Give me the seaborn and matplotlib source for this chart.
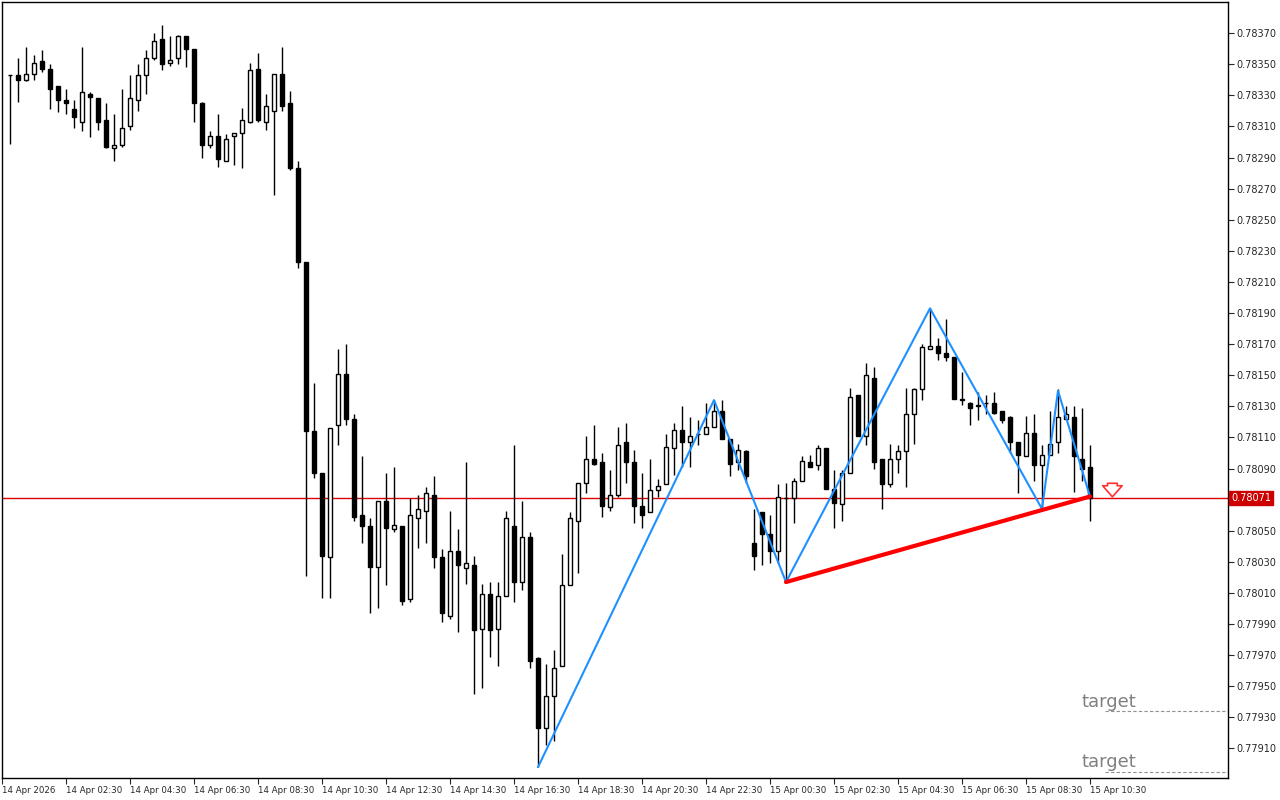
import numpy as np
import pandas as pd
import matplotlib
matplotlib.use("Agg")
import matplotlib.pyplot as plt
import seaborn as sns

# OHLC in price points (1e-5)
opens = [78343,78343,78340,78344,78352,78347,78336,78327,78321,78313,78331,78328,78314,78296,78298,78310,78327,78343,78354,78366,
         78351,78354,78368,78360,78325,78298,78304,78288,78304,78306,78313,78347,78313,78320,78344,78325,78283,78223,78114,78087,
         78033,78118,78151,78122,78060,78053,78027,78069,78051,78053,78006,78058,78063,78073,78033,77995,78037,78026,78028,77987,
         78009,77987,78008,78053,78017,78046,77968,77923,77944,77963,78015,78056,78081,78096,78094,78065,78073,78107,78094,78066,
         78062,78076,78080,78103,78115,78107,78112,78112,78117,78127,78109,78094,78101,78042,78062,78048,78037,78071,78071,78082,
         78094,78092,78103,78077,78067,78087,78137,78111,78148,78096,78080,78096,78101,78125,78141,78167,78169,78164,78162,78135,
         78132,78130,78132,78132,78127,78123,78107,78098,78113,78092,78099,78107,78122,78123,78096,78091]
highs = [78343,78354,78361,78356,78359,78350,78336,78334,78327,78361,78332,78328,78325,78318,78334,78343,78350,78359,78370,78375,
         78368,78369,78368,78360,78326,78307,78318,78305,78306,78322,78351,78357,78331,78344,78361,78333,78288,78223,78145,78087,
         78116,78167,78170,78125,78098,78058,78069,78087,78091,78053,78071,78073,78078,78085,78038,78063,78051,78094,78034,78016,
         78017,78017,78063,78105,78069,78049,77969,77964,77973,78035,78062,78081,78111,78118,78100,78089,78117,78119,78102,78087,
         78096,78083,78112,78119,78130,78123,78121,78132,78134,78134,78109,78106,78102,78064,78062,78060,78080,78081,78084,78098,
         78099,78105,78103,78089,78089,78142,78137,78158,78155,78096,78106,78105,78142,78142,78170,78193,78174,78186,78162,78152,
         78133,78139,78137,78139,78127,78124,78107,78124,78125,78105,78127,78141,78130,78130,78129,78105]
lows = [78299,78326,78339,78340,78345,78321,78319,78318,78309,78307,78303,78308,78296,78288,78297,78308,78320,78331,78353,78346,
        78349,78350,78348,78313,78290,78296,78284,78288,78285,78283,78312,78313,78308,78266,78320,78282,78219,78021,78084,78007,
        78007,78105,78118,78056,78042,77997,78000,78015,78049,78002,78004,78039,78042,78026,77991,77993,77985,78016,77945,77949,
        77969,77963,78008,78004,78012,77962,77898,77912,77915,77963,78015,78023,78074,78092,78059,78063,78072,78081,78055,78052,
        78062,78072,78080,78086,78091,78091,78105,78112,78117,78109,78085,78089,78081,78025,78028,78029,78029,78017,78055,78082,
        78091,78089,78077,78052,78056,78087,78111,78105,78090,78064,78078,78087,78078,78106,78134,78167,78160,78159,78135,78131,
        78118,78121,78125,78125,78119,78100,78074,78098,78082,78064,78099,78100,78122,78075,78082,78056]
closes = [78343,78340,78344,78351,78347,78334,78327,78325,78316,78332,78329,78313,78297,78298,78309,78328,78343,78354,78365,78350,
          78353,78368,78360,78325,78298,78304,78289,78302,78306,78314,78346,78314,78323,78344,78323,78283,78223,78114,78087,78034,
          78116,78151,78122,78059,78053,78027,78069,78052,78054,78005,78060,78064,78074,78033,77997,78037,78028,78029,77986,78009,
          77986,78008,78058,78017,78046,77966,77923,77944,77962,78015,78058,78081,78096,78093,78066,78073,78105,78094,78066,78060,
          78076,78079,78104,78115,78107,78111,78112,78117,78127,78109,78093,78102,78085,78034,78048,78037,78072,78071,78082,78095,
          78091,78103,78077,78068,78087,78136,78111,78150,78094,78080,78096,78101,78125,78141,78168,78169,78164,78162,78135,78134,
          78129,78131,78132,78126,78121,78107,78099,78113,78092,78099,78106,78123,78125,78098,78090,78071]

zigzag_idx = [66, 88, 97, 115, 129, 131, 135]
zigzag_pts = [77898, 78134, 78017, 78193, 78064, 78140, 78072]
neck_idx = [97, 135]
neck_pts = [78017, 78072]
current_price = 78071
targets = [77934, 77895]

ytick_vals = [v for v in range(78370, 77900, -20) if v != 78070]
xtick_labels = ["14 Apr 2026", "14 Apr 02:30", "14 Apr 04:30", "14 Apr 06:30", "14 Apr 08:30", "14 Apr 10:30",
                "14 Apr 12:30", "14 Apr 14:30", "14 Apr 16:30", "14 Apr 18:30", "14 Apr 20:30", "14 Apr 22:30",
                "15 Apr 00:30", "15 Apr 02:30", "15 Apr 04:30", "15 Apr 06:30", "15 Apr 08:30", "15 Apr 10:30"]

S = 1e5
df = pd.DataFrame({"o": np.array(opens)/S, "h": np.array(highs)/S, "l": np.array(lows)/S, "c": np.array(closes)/S})
df["i"] = np.arange(len(df))

sns.set_style("white")
plt.rcParams['font.family'] = ['DejaVu Sans']
fig = plt.figure(figsize=(12.8, 8), dpi=100)
ax = fig.add_axes([2/1280, 22/800, 1226/1280, 776/800])

ax.vlines(df["i"], df["l"], df["h"], color="black", lw=1, zorder=2)
up = df["c"] >= df["o"]
bot = np.minimum(df["o"], df["c"])
hgt = np.maximum(np.abs(df["c"] - df["o"]), 0.000003)
ax.bar(df["i"][up], hgt[up], bottom=bot[up], width=0.62, color="white", edgecolor="black", lw=1, zorder=3)
ax.bar(df["i"][~up], hgt[~up], bottom=bot[~up], width=0.62, color="black", edgecolor="black", lw=1, zorder=3)

zz = pd.DataFrame({"i": zigzag_idx, "p": np.array(zigzag_pts)/S})
sns.lineplot(data=zz, x="i", y="p", sort=False, color="#1e90ff", lw=1.5, ax=ax, zorder=4)
nk = pd.DataFrame({"i": neck_idx, "p": np.array(neck_pts)/S})
sns.lineplot(data=nk, x="i", y="p", sort=False, color="#ff0000", lw=3, ax=ax, zorder=5)

cp = current_price/S
ax.axhline(cp, color="#e00000", lw=1, zorder=1)
ax.annotate("", xy=(137.8, cp - 0.00001), xytext=(137.8, cp + 0.00013/1.0 * 0.1 + 0.00010),
            arrowprops=dict(arrowstyle="simple,head_width=1.4,head_length=0.8,tail_width=0.7",
                            fc="white", ec="#ff3030", lw=1.2), zorder=6)

for t, ty in zip(targets, [0.77940, 0.77901]):
    ax.plot([136.9, 152.3], [t/S, t/S], color="#909090", ls=(0, (3, 2)), lw=0.8)
    ax.text(134, ty, "target", color="#808080", fontsize=13, ha="left", va="center")

ax.set_xlim(-1, 152.25)
ax.set_ylim(0.77891, 0.78390)
ax.yaxis.tick_right()
ax.set_yticks(np.array(ytick_vals)/S)
ax.set_yticklabels([f"{v/S:.5f}" for v in ytick_vals], fontsize=7)
ax.tick_params(axis="y", direction="out", length=4, width=0.8, pad=2, right=True)
xt = [-1 + 8*k for k in range(len(xtick_labels))]
ax.set_xticks(xt)
ax.set_xticklabels(xtick_labels, fontsize=6.2, ha="left")
ax.tick_params(axis="x", direction="out", length=4, width=0.8, pad=2, bottom=True)
ax.set_xlabel(""); ax.set_ylabel("")
for s in ax.spines.values():
    s.set_color("black"); s.set_linewidth(1)

ax.text(1.0025, cp, f"{cp:.5f}", transform=ax.get_yaxis_transform(), fontsize=7, color="white",
        ha="left", va="center", bbox=dict(boxstyle="square,pad=0.2", fc="#cc0000", ec="#cc0000"), zorder=10, clip_on=False)

fig.savefig("out.png", dpi=100)
